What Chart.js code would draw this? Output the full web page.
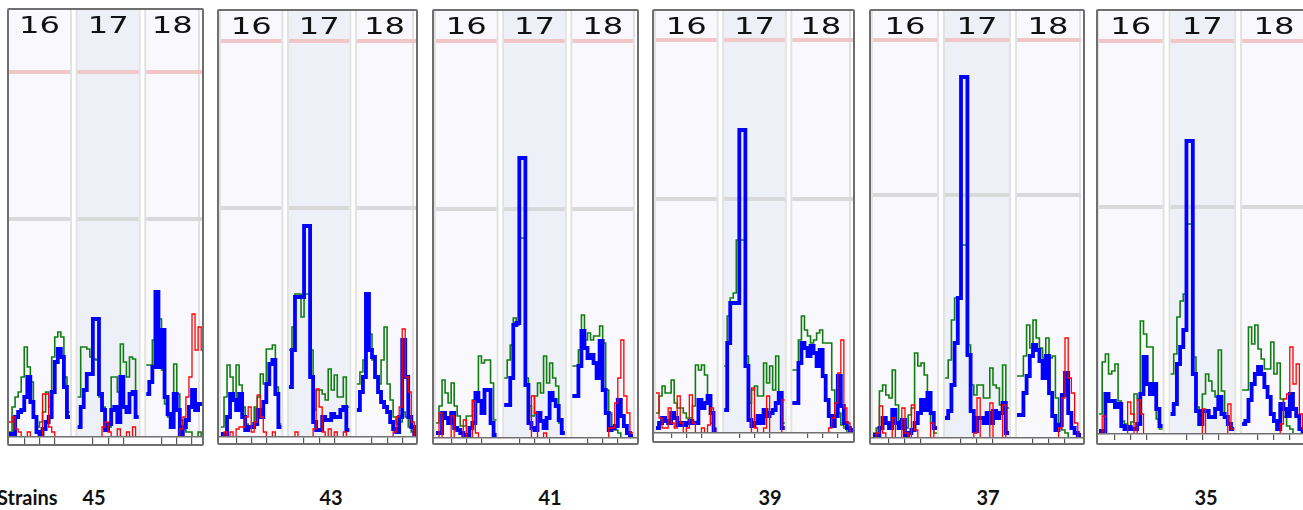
<!DOCTYPE html>
<html><head><meta charset="utf-8">
<script src="https://cdn.jsdelivr.net/npm/chart.js@4.4.1/dist/chart.umd.min.js"></script>
<style>
html,body{margin:0;padding:0;background:#fff;width:1303px;height:510px;overflow:hidden;position:relative}
.panel{position:absolute;border:2px solid #6f6f6f;border-radius:2px;background:#fff;box-sizing:border-box;overflow:hidden}
.panel canvas{position:absolute;left:0;top:0}
.lab{position:absolute;top:487px;font:bold 20px Lato,"Open Sans",sans-serif;line-height:20px;color:#111;white-space:nowrap}
</style></head><body>
<div class="lab" style="left:-3px">Strains</div>
<script>
// ---------- data ----------
const strains = ['45','43','41','39','37','35'];
const columns = ['16','17','18'];
const redLevel  = [365,396,397,393,398,393];
const greyLevel = [218,229,229,234,243,227];
const tickSamples = [5,10,15];

const blue45  = [[3,3,20,25,27,40,60,35,20,5,3,8,15,20,45,75,88,80,50,20],
                 [10,30,47,63,63,118,118,43,27,7,13,27,30,15,60,30,25,43,45,20],
                 [43,55,70,145,70,107,40,23,10,43,27,3,10,17,30,47,27,33,33,30]];
const green45 = [[5,30,40,45,60,90,70,55,20,10,15,25,45,30,80,100,105,100,60,25],
                 [40,90,90,88,80,78,77,40,30,8,10,60,60,45,93,75,60,80,78,20],
                 [72,72,97,137,118,67,33,20,20,73,43,17,8,5,5,0,0,5,0,0]];
const red45   = [[15,20,8,5,0,0,5,0,0,0,0,43,43,10,5,0,0,0,0,0],
                 [0,0,0,0,0,0,0,0,10,15,5,0,0,8,0,0,5,0,10,0],
                 [0,0,0,0,0,0,0,0,0,0,0,8,20,40,60,123,87,110,87,60]];

const blue43  = [[3,3,20,43,37,27,43,20,7,10,10,13,27,20,35,53,73,77,43,10],
                 [50,87,140,140,140,211,211,60,15,7,7,20,17,17,23,20,20,27,30,7],
                 [27,45,60,143,87,80,60,45,35,30,25,15,8,5,20,97,60,20,10,3]];
const green43 = [[10,40,72,60,37,72,52,30,13,10,10,30,40,63,53,88,88,92,50,13],
                 [87,110,143,143,120,143,143,87,27,47,47,43,37,68,47,62,40,40,60,30],
                 [53,65,77,110,103,77,60,53,77,110,53,37,20,13,15,25,20,10,5,0]];
const red43   = [[0,5,0,5,0,8,10,10,20,30,5,15,42,20,5,0,0,5,0,0],
                 [0,0,5,0,0,0,0,0,8,48,30,5,0,8,0,5,0,0,5,0],
                 [0,0,0,0,0,0,0,0,0,0,0,0,5,20,30,108,60,45,15,0]];

const blue41  = [[5,5,25,20,15,25,10,8,5,3,3,10,15,45,37,25,48,48,15,3],
                 [33,33,60,113,115,280,280,53,15,10,8,25,17,10,20,45,38,32,18,5],
                 [42,42,72,107,90,80,83,75,60,97,48,25,8,10,12,38,22,12,5,2]];
const green41 = [[15,32,58,45,35,55,32,22,12,12,22,22,38,38,82,75,78,78,55,18],
                 [60,78,93,120,113,200,200,60,32,22,42,55,45,82,55,75,60,52,15,5],
                 [72,72,88,123,98,105,98,102,102,112,95,48,25,10,8,5,0,0,0,0]];
const red41   = [[0,25,0,0,0,22,0,0,0,18,0,0,37,5,0,0,0,0,0,0],
                 [0,0,0,0,0,0,0,0,0,42,25,0,0,5,0,0,0,0,0,0],
                 [0,0,0,0,0,0,0,0,0,0,0,0,10,10,35,60,98,42,25,5]];

const blue39  = [[5,10,15,12,10,20,15,8,10,8,10,12,10,10,33,25,30,37,20,3],
                 [23,90,130,130,130,303,303,67,13,7,10,17,10,23,17,20,23,30,40,5],
                 [30,30,70,90,85,77,87,80,67,83,57,33,17,7,17,57,27,10,5,3]];
const green39 = [[20,37,47,40,40,53,30,25,25,20,15,15,27,68,63,68,58,33,10,5],
                 [67,117,135,140,193,193,193,77,30,43,47,37,37,70,50,67,43,77,33,10],
                 [63,63,93,117,103,97,90,93,100,103,90,90,90,43,17,20,8,5,0,0]];
const red39   = [[40,15,5,5,25,10,5,37,10,0,5,38,10,0,0,5,0,8,25,0],
                 [0,0,0,0,0,0,0,0,0,45,5,0,0,5,37,0,0,0,0,33],
                 [0,0,0,0,0,0,0,0,0,0,0,0,5,15,30,60,93,25,10,0]];

const blue37  = [[3,3,10,20,15,10,28,15,10,18,3,5,8,15,25,38,28,45,25,10],
                 [20,27,53,95,140,361,361,83,27,7,20,20,15,25,15,27,20,25,35,5],
                 [23,23,45,62,82,93,88,77,60,82,45,22,8,13,43,65,25,10,5,3]];
const green37 = [[5,10,47,53,43,40,68,33,17,12,10,23,30,85,72,75,63,38,15,5],
                 [60,78,118,140,140,193,193,93,53,43,53,53,40,40,70,53,50,33,73,30],
                 [62,62,82,113,90,118,100,90,80,100,80,82,40,15,8,5,0,0,0,0]];
const red37   = [[0,5,32,5,0,0,20,0,0,30,5,0,33,8,0,0,0,0,15,0],
                 [0,0,0,0,0,0,0,0,0,5,40,0,0,0,35,0,0,0,33,0],
                 [0,0,0,0,0,0,0,0,0,0,0,0,0,10,40,100,60,45,15,0]];

const blue35  = [[3,3,40,33,33,27,30,8,5,7,5,5,10,40,77,50,40,50,25,8],
                 [20,30,70,87,104,293,293,60,23,10,23,23,17,17,25,37,20,17,10,5],
                 [10,13,34,50,60,67,60,47,37,20,13,5,30,25,18,40,25,18,5,3]];
const green35 = [[20,72,80,60,63,70,33,13,10,7,12,40,35,113,100,87,87,45,15,5],
                 [60,80,117,133,140,210,210,77,27,23,40,60,53,43,37,84,43,17,10,5],
                 [44,44,107,90,109,85,75,65,65,92,60,71,35,17,8,5,0,0,0,0]];
const red35   = [[0,18,0,0,0,0,0,0,0,32,20,0,34,20,0,0,0,0,0,0],
                 [0,0,0,0,0,0,0,0,0,0,25,0,0,0,0,0,0,0,30,5],
                 [0,0,0,0,0,0,0,0,0,0,0,0,10,35,40,87,50,70,20,5]];

const blueSeries  = [blue45, blue43, blue41, blue39, blue37, blue35];
const greenSeries = [green45, green43, green41, green39, green37, green35];
const redSeries   = [red45, red43, red41, red39, red37, red35];

// ---------- layout (page geometry) ----------
// left, top, right, bottom, baseline, first-column x, px per sample, tick length
const panelBox = [
  [7,8,204,446,437,9,3.05,7],
  [217,9,418,445,437,221,3.02,6],
  [432,9,639,445,438,436,3.03,5],
  [652,9,855,443,433,656,3.03,5],
  [869,9,1085,445,438,873,3.2,5],
  [1096,9,1320,445,434,1099,3.18,6]
];
const labelCenter = [94,331,550,770,988,1206];
const COLS = 20, SPACING = 22.5;
const colStart = c => c*SPACING;

function steps(cols){
  const out=[];
  cols.forEach((v,c)=>{
    const s=colStart(c);
    v.forEach((y,i)=>out.push({x:s+i,y:y}));
    out.push({x:s+COLS,y:v[v.length-1]});
    out.push({x:s+COLS+0.5,y:null});
  });
  return out;
}
function level(y){
  const out=[];
  for(let c=0;c<columns.length;c++){
    const s=colStart(c);
    out.push({x:s,y:y},{x:s+COLS,y:y},{x:s+COLS+0.5,y:null});
  }
  return out;
}

function colEdges(chart,c){
  const a=chart.chartArea, x=chart.scales.x;
  const x0=x.getPixelForValue(colStart(c));
  let x1=x.getPixelForValue(colStart(c)+COLS);
  if(c===columns.length-1) x1=Math.min(x1,a.right-4);
  return [x0,x1];
}

const panelPlugin = {
  id:'panelBg',
  beforeDraw(chart){
    const {ctx, chartArea:a} = chart;
    ctx.save();
    ctx.fillStyle='#fff'; ctx.fillRect(0,0,chart.width,chart.height);
    for(let c=0;c<columns.length;c++){
      const [x0,x1]=colEdges(chart,c);
      ctx.fillStyle = c===1 ? '#eef0f8' : '#f9f9fd';
      ctx.fillRect(x0,0,x1-x0,a.bottom);
      ctx.fillStyle='#e2e2e2';
      ctx.fillRect(x0-2,0,2,a.bottom);
      ctx.fillRect(x1,0,2,a.bottom);
    }
    ctx.restore();
  },
  afterDraw(chart){
    const {ctx} = chart;
    ctx.save();
    ctx.fillStyle='#111';
    ctx.font='23px "DejaVu Sans"';
    ctx.textAlign='center'; ctx.textBaseline='alphabetic';
    for(let c=0;c<columns.length;c++){
      const [x0,x1]=colEdges(chart,c);
      ctx.save();
      ctx.translate((x0+x1)/2, 23);
      ctx.scale(1.4,1);
      ctx.fillText(columns[c],0,0);
      ctx.restore();
    }
    ctx.restore();
  }
};

panelBox.forEach((g,p)=>{
  const [L,T,R,B,base,col0,k,tl] = g;
  const div=document.createElement('div');
  div.className='panel';
  div.style.left=L+'px'; div.style.top=T+'px';
  div.style.width=(R-L)+'px'; div.style.height=(B-T)+'px';
  const W=R-L-4, H=B-T-4;
  const cv=document.createElement('canvas');
  cv.width=W; cv.height=H; cv.style.width=W+'px'; cv.style.height=H+'px';
  div.appendChild(cv);
  document.body.appendChild(div);
  const xmin=-(col0-L-2)/k, xmax=xmin+W/k;
  const ymax=base-T-2;
  const padB=H-ymax-tl;
  const ticks=[];
  for(let c=0;c<columns.length;c++) tickSamples.forEach(t=>ticks.push(colStart(c)+t));
  const common={pointRadius:0,pointHoverRadius:0,stepped:true,spanGaps:false,fill:false,
                borderJoinStyle:'miter',borderCapStyle:'butt',clip:{left:5,top:5,right:5,bottom:-1}};
  new Chart(cv,{
    type:'line',
    data:{datasets:[
      Object.assign({label:'red',data:steps(redSeries[p]),borderColor:'#ff0000',borderWidth:1.3},common),
      Object.assign({label:'blue',data:steps(blueSeries[p]),borderColor:'#0000ff',borderWidth:3.8},common),
      Object.assign({label:'green',data:steps(greenSeries[p]),borderColor:'#117d11',borderWidth:1.6},common),
      {label:'upper',data:level(redLevel[p]),borderColor:'#f0c6c6',borderWidth:4,pointRadius:0,spanGaps:false,fill:false,borderCapStyle:'butt'},
      {label:'lower',data:level(greyLevel[p]),borderColor:'#d9d9d9',borderWidth:4,pointRadius:0,spanGaps:false,fill:false,borderCapStyle:'butt'}
    ]},
    options:{
      responsive:false, animation:false, devicePixelRatio:1,
      events:[],
      layout:{padding:{left:0,right:0,top:0,bottom:padB}},
      plugins:{legend:{display:false},tooltip:{enabled:false}},
      elements:{line:{tension:0}},
      scales:{
        x:{type:'linear',min:xmin,max:xmax,
           afterBuildTicks:sc=>{sc.ticks=ticks.map(v=>({value:v}));},
           grid:{display:true,drawOnChartArea:false,drawTicks:true,tickLength:tl,color:'#555',lineWidth:1.2},
           border:{display:true,color:'#707070',width:1.5},
           ticks:{display:false}},
        y:{type:'linear',min:0,max:ymax,display:false}
      }
    },
    plugins:[panelPlugin]
  });
  const lab=document.createElement('div');
  lab.className='lab';
  lab.textContent=strains[p];
  lab.style.left=(labelCenter[p]-30)+'px';
  lab.style.width='60px';
  lab.style.textAlign='center';
  document.body.appendChild(lab);
});
</script>
</body></html>
